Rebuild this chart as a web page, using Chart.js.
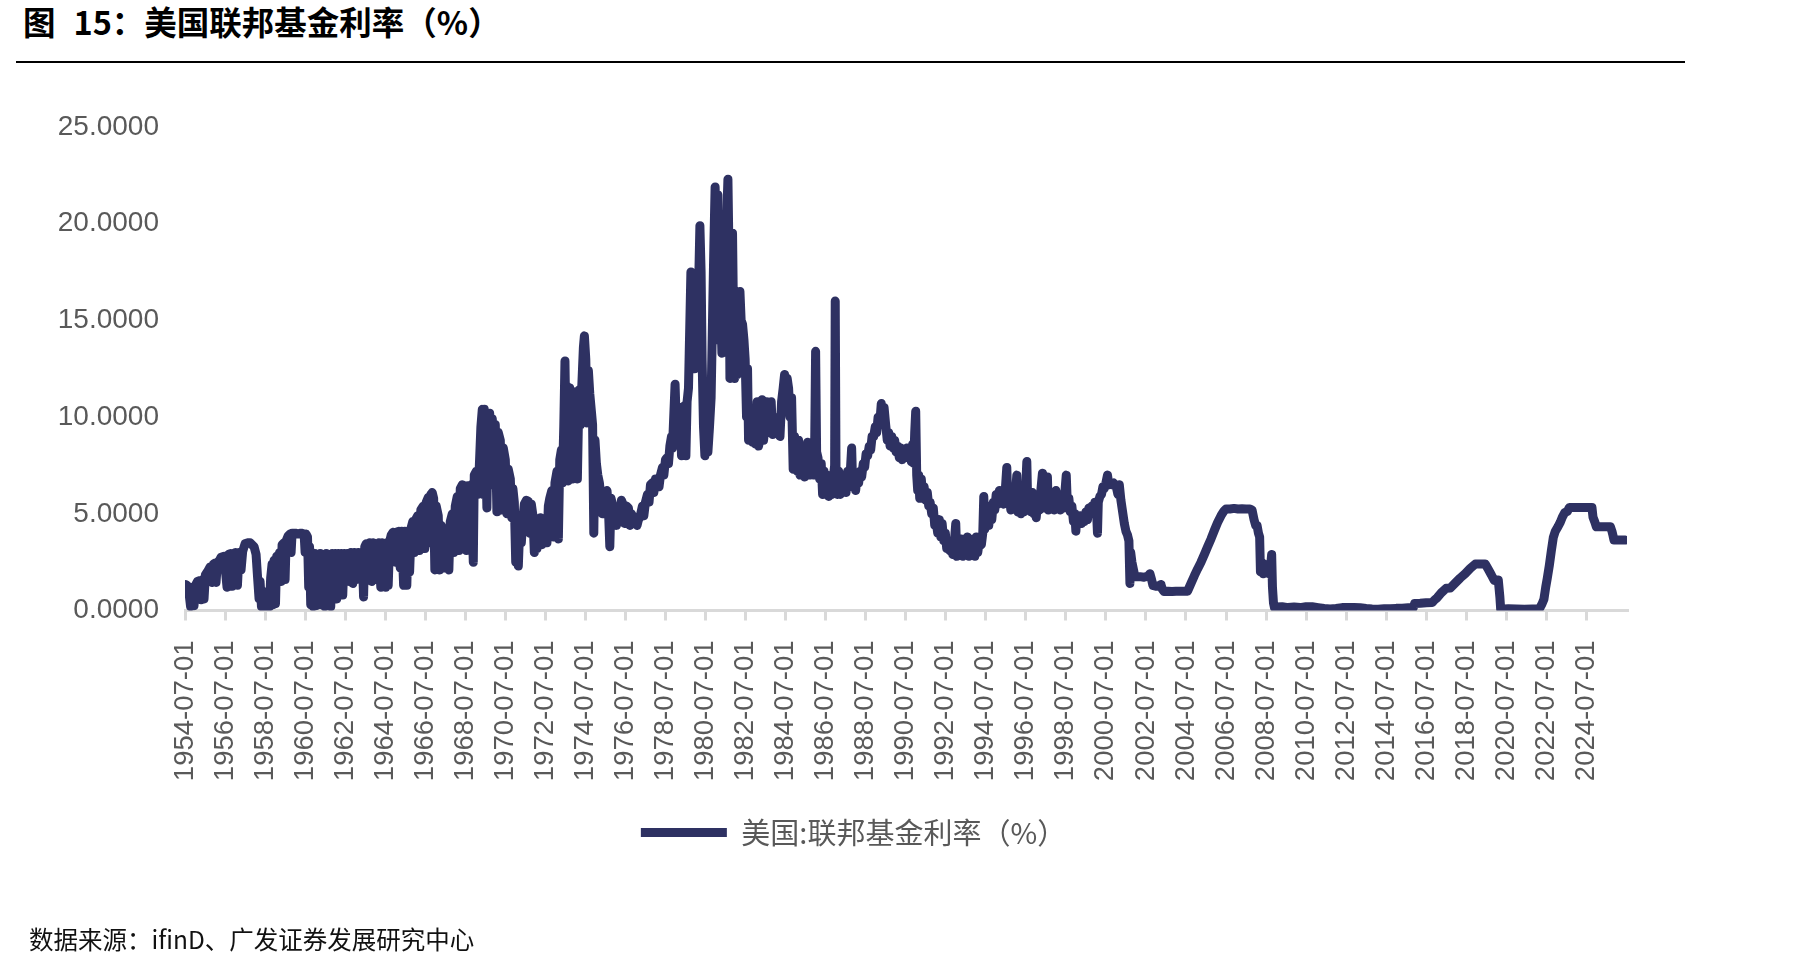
<!DOCTYPE html>
<html lang="zh-CN">
<head>
<meta charset="utf-8">
<title>图 15：美国联邦基金利率（%）</title>
<script src="https://cdn.jsdelivr.net/npm/chart.js@4.4.1/dist/chart.umd.min.js"></script>
<style>
  html, body { margin: 0; padding: 0; background: #fff; }
  body { width: 1796px; height: 968px; position: relative; overflow: hidden; font-family: "Noto Sans CJK SC", sans-serif; }
  #title { position: absolute; left: 23px; top: 1px; font-size: 32.5px; font-weight: bold; color: #000; line-height: 40px; white-space: pre; }
  #title .gap { display: inline-block; width: 18px; }
  #rule { position: absolute; left: 16px; top: 61px; width: 1669px; height: 2px; background: #000; }
  #source { position: absolute; left: 29px; top: 923px; font-size: 24.5px; color: #111; line-height: 32px; }
  #chart { position: absolute; left: 0; top: 0; }
</style>
</head>
<body>
<div id="title">图<span class="gap"></span>15：美国联邦基金利率（%）</div>
<div id="rule"></div>
<canvas id="chart" width="1796" height="968"></canvas>
<div id="source">数据来源：ifinD、广发证券发展研究中心</div>

<script>
const LINE = "#2e3162";
const seriesName = "美国:联邦基金利率（%）";

const tickLabels = [
  "1954-07-01", "1956-07-01", "1958-07-01", "1960-07-01", "1962-07-01", "1964-07-01",
  "1966-07-01", "1968-07-01", "1970-07-01", "1972-07-01", "1974-07-01", "1976-07-01",
  "1978-07-01", "1980-07-01", "1982-07-01", "1984-07-01", "1986-07-01", "1988-07-01",
  "1990-07-01", "1992-07-01", "1994-07-01", "1996-07-01", "1998-07-01", "2000-07-01",
  "2002-07-01", "2004-07-01", "2006-07-01", "2008-07-01", "2010-07-01", "2012-07-01",
  "2014-07-01", "2016-07-01", "2018-07-01", "2020-07-01", "2022-07-01", "2024-07-01",
];

// dates are decimal years; the rate swings give the thick band
const dates1954 = [
  1954.50,1954.60,1954.70,1954.78,1954.85,1954.95,1955.02,1955.12,1955.25,1955.30,
  1955.38,1955.45,1955.52,1955.65,1955.75,1955.85,1955.92,1956.00,1956.05,1956.12,
  1956.20,1956.30,1956.45,1956.60,1956.68,1956.78,1956.85,1956.92,1957.02,1957.12,
  1957.20,1957.30,1957.38,1957.50,1957.62,1957.75,1957.85,1957.95,1958.05,1958.12,
  1958.20,1958.25,1958.32,1958.38,1958.45,1958.52,1958.60,1958.68,1958.72,1958.78,
  1958.85,1958.90,1958.95,1959.02,1959.08,1959.15,1959.22,1959.30,1959.35,1959.45,
  1959.50,1959.55,1959.65,1959.75,1959.80,1959.85,1960.00,1960.15,1960.30,1960.45,
  1960.50,1960.55,1960.62,1960.68,1960.72,1960.78,1960.82,1960.90,1960.98,1961.05,
  1961.12,1961.18,1961.25,1961.32,1961.40,1961.48,1961.55,1961.62,1961.70,1961.78,
  1961.85,1961.92,1962.00,1962.08,1962.15,1962.22,1962.30,1962.38,1962.45,1962.52,
  1962.60,1962.70,1962.78,1962.88,1962.95,1963.05,1963.15,1963.25,1963.35,1963.42,
  1963.48,1963.55,1963.65,1963.72,1963.82,1963.90,1964.00,1964.10,1964.18,1964.28,
  1964.35,1964.45,1964.52,1964.58,1964.65,1964.72,1964.80,1964.90,
];
const rates1954 = [
  1.35,1.30,0.90,0.20,1.20,0.25,1.30,1.50,1.55,0.55,
  1.60,0.60,1.85,2.05,2.25,1.45,2.40,2.45,1.45,2.50,
  2.55,2.75,2.80,1.20,2.90,2.95,1.25,2.95,3.00,1.30,
  3.00,2.10,3.05,3.45,3.50,3.50,3.40,3.30,2.90,1.80,
  0.60,1.50,0.20,1.00,0.15,0.80,0.15,0.90,0.20,1.70,
  2.40,0.30,2.60,0.35,2.80,1.50,3.00,1.50,3.40,3.50,
  1.60,3.60,3.85,3.95,3.00,4.00,4.00,3.95,4.00,3.95,
  3.00,3.95,3.80,1.20,3.30,0.30,3.00,0.20,2.95,0.25,
  2.90,0.50,2.95,0.30,2.60,0.20,2.95,0.40,2.90,0.20,
  2.95,1.00,2.95,0.60,2.95,1.10,2.95,0.80,2.95,1.50,
  2.95,1.50,3.00,1.40,3.00,1.60,3.00,2.00,3.00,0.70,
  3.30,3.45,2.00,3.50,1.50,3.50,3.45,1.60,3.50,1.20,
  3.50,3.45,1.20,3.50,1.30,3.55,3.90,4.05,
];

const dates1965 = [
  1965.00,1965.08,1965.18,1965.25,1965.32,1965.42,1965.48,1965.58,1965.65,1965.72,
  1965.80,1965.88,1965.95,1966.02,1966.12,1966.20,1966.28,1966.40,1966.48,1966.55,
  1966.65,1966.72,1966.78,1966.85,1966.92,1966.98,1967.05,1967.15,1967.22,1967.30,
  1967.40,1967.45,1967.52,1967.60,1967.68,1967.75,1967.85,1967.92,1968.00,1968.10,
  1968.18,1968.25,1968.35,1968.45,1968.55,1968.62,1968.70,1968.80,1968.90,1968.95,
  1969.05,1969.12,1969.20,1969.28,1969.35,1969.40,1969.45,1969.52,1969.58,1969.65,
  1969.72,1969.80,1969.85,1969.92,1970.00,1970.08,1970.15,1970.25,1970.32,1970.40,
  1970.50,1970.58,1970.65,1970.75,1970.82,1970.88,1970.95,1971.02,1971.08,1971.15,
  1971.22,1971.30,1971.38,1971.45,1971.55,1971.65,1971.72,1971.80,1971.88,1971.95,
  1972.02,1972.08,1972.15,1972.25,1972.32,1972.40,1972.50,1972.58,1972.65,1972.72,
  1972.82,1972.90,1972.98,1973.08,1973.15,1973.22,1973.30,1973.35,1973.42,1973.48,
  1973.52,1973.58,1973.65,1973.72,1973.80,1973.88,1973.95,1974.02,1974.10,1974.18,
  1974.25,1974.32,1974.40,1974.45,1974.52,1974.58,1974.65,1974.72,1974.80,1974.86,
  1974.92,1974.98,
];
const rates1965 = [
  2.50,4.05,4.10,2.20,4.10,1.30,4.10,1.30,4.10,2.00,
  4.30,4.60,3.00,4.70,4.90,3.10,5.20,5.40,3.20,5.60,
  5.85,3.50,6.00,6.10,5.80,2.10,5.40,4.90,2.10,4.40,
  4.00,2.20,3.90,4.00,2.10,4.60,5.00,3.00,5.40,5.90,
  3.10,6.30,6.50,6.45,3.10,6.45,6.40,6.50,2.50,7.00,
  7.20,6.00,7.40,9.50,10.40,6.00,10.40,8.50,5.30,9.80,
  10.20,6.50,9.90,8.00,9.60,5.10,9.20,8.80,5.20,8.40,
  7.80,5.00,7.30,6.80,4.80,6.30,5.60,2.50,4.80,2.30,
  4.30,3.50,4.80,5.50,5.70,5.65,4.00,5.50,4.90,3.00,
  4.40,3.20,4.20,4.80,3.40,4.50,4.70,3.50,5.40,5.80,
  6.20,3.80,6.60,7.20,3.70,7.80,8.30,6.60,9.50,12.90,
  10.00,11.60,6.70,11.50,10.80,6.80,11.30,10.20,6.80,11.40,
  9.60,11.60,13.60,14.20,13.00,9.70,12.40,11.20,10.30,9.60,
  4.00,8.80,
];

const dates1975 = [
  1975.05,1975.12,1975.20,1975.28,1975.35,1975.42,1975.50,1975.58,1975.65,1975.72,
  1975.78,1975.85,1975.95,1976.05,1976.12,1976.22,1976.30,1976.38,1976.45,1976.55,
  1976.65,1976.72,1976.80,1976.90,1977.00,1977.08,1977.15,1977.22,1977.35,1977.42,
  1977.50,1977.60,1977.68,1977.75,1977.85,1977.92,1978.00,1978.10,1978.18,1978.25,
  1978.35,1978.42,1978.50,1978.58,1978.65,1978.72,1978.80,1978.85,1978.92,1978.98,
  1979.03,1979.10,1979.18,1979.25,1979.30,1979.38,1979.45,1979.52,1979.58,1979.65,
  1979.72,1979.77,1979.82,1979.88,1979.95,1980.00,1980.08,1980.15,1980.22,1980.28,
  1980.33,1980.40,1980.47,1980.55,1980.62,1980.70,1980.78,1980.85,1980.92,1980.98,
  1981.03,1981.08,1981.12,1981.18,1981.25,1981.32,1981.38,1981.45,1981.50,1981.55,
  1981.62,1981.68,1981.72,1981.78,1981.85,1981.90,1981.95,1982.02,1982.08,1982.15,
  1982.22,1982.28,1982.35,1982.42,1982.48,1982.55,1982.60,1982.65,1982.72,1982.78,
  1982.85,1982.92,1983.00,1983.08,1983.15,1983.25,1983.32,1983.40,1983.48,1983.55,
  1983.62,1983.70,1983.78,1983.85,1983.92,1984.00,1984.08,1984.15,1984.22,1984.30,
  1984.38,1984.45,1984.52,1984.58,1984.65,1984.72,1984.80,1984.88,1984.95,
];
const rates1975 = [
  7.60,7.00,6.60,5.80,5.00,5.50,6.10,6.20,5.30,3.30,
  5.80,5.50,5.30,4.40,5.00,4.90,5.70,5.50,4.50,5.40,
  5.30,4.40,5.00,4.80,4.70,4.40,4.70,4.80,5.40,4.90,
  5.60,6.00,5.60,6.50,6.60,6.10,6.80,6.80,6.40,7.00,
  7.40,7.00,7.80,7.90,7.60,8.50,9.00,8.40,10.20,11.70,
  10.00,10.30,9.80,10.50,8.00,10.30,10.60,8.00,10.80,11.50,
  15.00,17.50,13.00,14.50,12.50,14.00,13.50,16.50,19.90,17.50,
  13.00,9.50,8.00,9.00,8.20,9.50,11.00,15.00,19.00,21.90,
  20.00,21.50,14.00,19.50,16.00,13.30,18.00,19.00,14.00,20.00,
  22.30,18.00,12.00,16.00,19.50,15.00,12.00,13.50,12.20,14.50,
  16.50,15.00,14.80,14.00,13.00,10.00,12.50,8.80,10.50,9.50,
  8.70,10.20,8.60,10.80,8.50,9.00,10.90,8.80,9.60,10.80,
  9.20,9.60,10.80,9.10,9.60,9.80,9.40,10.00,9.00,10.80,
  11.50,12.20,11.20,12.00,11.50,10.00,11.00,7.30,9.00,
];

const dates1985 = [
  1985.02,1985.08,1985.15,1985.22,1985.30,1985.38,1985.45,1985.52,1985.60,1985.68,
  1985.75,1985.82,1985.88,1985.95,1986.00,1986.05,1986.12,1986.20,1986.28,1986.35,
  1986.42,1986.50,1986.58,1986.65,1986.72,1986.80,1986.88,1986.95,1986.98,1987.02,
  1987.08,1987.15,1987.22,1987.30,1987.38,1987.45,1987.52,1987.60,1987.68,1987.75,
  1987.80,1987.85,1987.92,1988.00,1988.08,1988.15,1988.22,1988.30,1988.38,1988.45,
  1988.52,1988.60,1988.68,1988.75,1988.82,1988.90,1988.98,1989.05,1989.12,1989.20,
  1989.28,1989.35,1989.42,1989.50,1989.58,1989.65,1989.72,1989.80,1989.88,1989.95,
  1990.02,1990.10,1990.18,1990.25,1990.32,1990.40,1990.48,1990.55,1990.62,1990.70,
  1990.78,1990.85,1990.90,1990.95,1991.00,1991.05,1991.10,1991.15,1991.20,1991.28,
  1991.35,1991.42,1991.50,1991.58,1991.65,1991.72,1991.80,1991.88,1991.95,1992.02,
  1992.10,1992.18,1992.25,1992.32,1992.40,1992.48,1992.55,1992.62,1992.70,1992.78,
  1992.85,1992.92,1993.00,1993.05,1993.12,1993.20,1993.28,1993.35,1993.42,1993.50,
  1993.58,1993.65,1993.72,1993.80,1993.88,1993.95,1994.02,1994.10,1994.18,1994.28,
  1994.35,1994.40,1994.45,1994.52,1994.60,1994.65,1994.72,1994.80,1994.88,1994.95,
];
const rates1985 = [
  8.50,7.20,8.80,7.00,8.50,8.00,6.90,8.00,8.70,7.00,
  8.20,8.00,7.00,8.30,13.40,8.20,7.90,6.80,7.60,6.00,
  7.20,6.40,7.00,5.90,6.50,6.00,6.80,7.50,16.00,7.00,
  6.00,7.20,6.00,7.00,6.30,7.00,6.10,7.20,6.40,7.50,
  8.40,6.50,7.00,6.20,7.00,6.60,7.20,6.90,7.60,7.40,
  8.10,8.00,8.50,8.30,9.00,9.00,9.50,9.20,10.00,9.60,
  10.70,9.80,10.50,9.60,8.80,9.20,8.50,9.00,8.40,8.80,
  8.20,8.50,7.90,8.40,7.80,8.30,7.90,8.40,8.00,8.30,
  7.70,8.60,7.60,9.20,10.30,7.00,6.20,7.00,5.80,6.80,
  5.80,6.40,5.70,6.10,5.40,5.60,5.00,5.30,4.40,4.60,
  4.00,4.70,3.80,4.50,3.60,4.00,3.20,3.60,3.10,3.50,
  2.90,3.40,4.50,2.80,3.60,2.90,3.70,2.80,3.50,2.90,
  3.80,2.80,3.60,2.90,3.70,2.80,3.80,3.00,3.60,3.40,
  4.00,5.90,4.20,4.50,5.00,4.40,5.40,4.70,5.60,5.20,
];

const dates1995 = [
  1995.02,1995.10,1995.18,1995.25,1995.32,1995.40,1995.48,1995.55,1995.60,1995.68,
  1995.75,1995.82,1995.90,1995.98,1996.05,1996.10,1996.18,1996.25,1996.32,1996.40,
  1996.48,1996.55,1996.60,1996.68,1996.75,1996.82,1996.90,1996.98,1997.02,1997.10,
  1997.18,1997.25,1997.33,1997.38,1997.45,1997.52,1997.58,1997.62,1997.70,1997.78,
  1997.85,1997.92,1998.00,1998.08,1998.15,1998.22,1998.30,1998.38,1998.45,1998.52,
  1998.58,1998.65,1998.72,1998.80,1998.88,1998.95,1999.00,1999.05,1999.12,1999.20,
  1999.28,1999.35,1999.42,1999.50,1999.58,1999.65,1999.72,1999.80,1999.88,1999.95,
  2000.02,2000.08,2000.12,2000.20,2000.28,2000.35,2000.42,2000.50,2000.58,2000.65,
  2000.72,2000.80,2000.88,2000.95,2001.02,2001.10,2001.17,2001.25,2001.35,2001.42,
  2001.50,2001.58,2001.65,2001.70,2001.74,2001.80,2001.88,2001.95,2002.20,2002.40,
  2002.60,2002.70,2002.78,2002.85,2003.00,2003.15,2003.25,2003.32,2003.40,2003.60,
  2003.80,2004.00,2004.20,2004.40,2004.58,2004.75,2004.92,2005.08,2005.25,2005.42,
  2005.58,2005.75,2005.92,2006.08,2006.25,2006.40,2006.50,2006.70,2006.90,2007.10,
  2007.30,2007.50,2007.70,2007.80,2007.90,2007.98,2008.05,2008.12,2008.18,2008.22,
  2008.28,2008.35,2008.42,2008.50,2008.58,2008.65,2008.72,2008.78,2008.82,2008.87,
  2008.92,
];
const rates1995 = [
  6.00,5.50,6.20,5.80,6.20,5.50,6.30,7.40,5.60,6.00,
  5.20,6.20,5.40,6.00,7.00,5.10,5.70,5.00,5.80,5.10,
  6.00,7.70,5.20,5.80,5.10,6.10,5.00,6.00,4.80,5.80,
  5.20,6.20,7.10,5.30,6.10,5.40,6.90,5.20,6.00,5.30,
  6.00,5.20,6.20,5.30,5.90,5.20,6.00,5.30,6.10,7.00,
  5.30,5.80,5.10,5.40,4.60,5.00,4.10,4.90,4.50,4.90,
  4.50,4.90,4.60,5.10,4.70,5.30,5.00,5.40,5.10,5.60,
  5.40,4.00,5.60,5.90,6.00,6.40,6.30,6.60,7.00,6.50,
  6.60,6.50,6.60,6.50,6.40,6.00,6.50,5.70,5.00,4.50,
  4.10,3.90,3.60,1.40,3.00,2.50,2.10,1.75,1.75,1.72,
  1.78,1.90,1.60,1.30,1.25,1.28,1.35,1.10,0.98,1.00,
  0.98,1.00,1.00,1.00,1.00,1.40,1.80,2.15,2.50,2.90,
  3.30,3.70,4.15,4.55,4.90,5.15,5.25,5.25,5.28,5.25,
  5.26,5.25,5.25,5.20,4.70,4.40,4.40,4.00,3.80,2.00,
  2.50,1.90,2.40,2.00,2.30,1.90,2.20,2.90,1.20,0.40,
  0.15,
];

const dates2009 = [
  2009.00,2009.30,2009.60,2009.90,2010.20,2010.50,2010.80,2011.10,2011.40,2011.70,
  2012.00,2012.30,2012.60,2012.90,2013.20,2013.50,2013.80,2014.10,2014.40,2014.70,
  2015.00,2015.30,2015.60,2015.85,2015.92,2016.20,2016.50,2016.80,2016.92,2017.05,
  2017.25,2017.50,2017.70,2017.95,2018.20,2018.45,2018.70,2018.95,2019.20,2019.45,
  2019.60,2019.75,2019.90,2020.10,2020.18,2020.22,2020.60,2021.00,2021.40,2021.80,
  2022.15,2022.28,2022.38,2022.47,2022.55,2022.65,2022.75,2022.85,2022.95,2023.08,
  2023.20,2023.30,2023.42,2023.55,2023.65,2024.00,2024.40,2024.78,2024.83,2024.92,
  2025.00,2025.40,2025.70,2025.78,2025.83,2025.88,2026.20,2026.45,
];
const rates2009 = [
  0.18,0.20,0.15,0.18,0.15,0.20,0.20,0.15,0.10,0.08,
  0.10,0.15,0.15,0.15,0.14,0.10,0.08,0.07,0.09,0.09,
  0.11,0.12,0.14,0.14,0.36,0.37,0.40,0.41,0.55,0.66,
  0.91,1.15,1.16,1.42,1.68,1.91,2.18,2.40,2.40,2.40,
  2.13,1.85,1.55,1.58,0.70,0.07,0.09,0.08,0.07,0.08,
  0.08,0.33,0.58,1.21,1.68,2.33,3.08,3.78,4.10,4.33,
  4.57,4.83,5.06,5.12,5.33,5.33,5.33,5.33,4.83,4.58,
  4.33,4.33,4.33,4.09,3.88,3.64,3.64,3.64,
];

const dates = [].concat(dates1954, dates1965, dates1975, dates1985, dates1995, dates2009);
const rates = [].concat(rates1954, rates1965, rates1975, rates1985, rates1995, rates2009);
if (dates.length !== rates.length) console.error("length mismatch", dates.length, rates.length);

const points = dates.map((d, i) => ({ x: d, y: rates[i] }));

// legend sits centred under the whole figure, a little right of the plot centre
const legendNudge = {
  id: "legendNudge",
  afterLayout(chart) {
    chart.legend.left += 14;
    chart.legend.right += 14;
  },
};

new Chart(document.getElementById("chart"), {
  type: "line",
  data: {
    datasets: [
      {
        label: seriesName,
        data: points,
        borderColor: LINE,
        backgroundColor: LINE,
        borderWidth: 9,
        borderJoinStyle: "round",
        borderCapStyle: "round",
        pointRadius: 0,
        pointHoverRadius: 0,
        tension: 0,
        fill: false,
      },
    ],
  },
  options: {
    responsive: false,
    animation: false,
    devicePixelRatio: 1,
    layout: { padding: { left: 52, top: 127, right: 169, bottom: 111 } },
    plugins: {
      tooltip: { enabled: false },
      legend: {
        position: "bottom",
        labels: {
          usePointStyle: true,
          pointStyle: "line",
          pointStyleWidth: 86,
          padding: 10,
          color: "#595959",
          font: { family: "'Noto Sans CJK SC', sans-serif", size: 29 },
        },
      },
    },
    scales: {
      x: {
        type: "linear",
        min: 1954.5,
        max: 2026.53,
        afterBuildTicks: (scale) => {
          scale.ticks = tickLabels.map((l) => ({ value: parseInt(l.slice(0, 4), 10) + 0.5 }));
        },
        afterFit: (scale) => {
          scale.height = 197.5;
        },
        grid: {
          drawOnChartArea: false,
          drawTicks: true,
          tickLength: 10,
          color: "#d9d9d9",
          lineWidth: 3,
        },
        border: { color: "#d9d9d9", width: 3 },
        ticks: {
          autoSkip: false,
          minRotation: 90,
          maxRotation: 90,
          padding: 20,
          color: "#595959",
          font: { family: "'Liberation Sans', Arial, sans-serif", size: 27.5 },
          callback: (v, i) => tickLabels[i],
        },
      },
      y: {
        min: 0,
        max: 25,
        afterFit: (scale) => {
          scale.width = 133;
        },
        grid: { display: false, drawTicks: false },
        border: { display: false },
        ticks: {
          stepSize: 5,
          padding: 26,
          color: "#595959",
          font: { family: "'Liberation Sans', Arial, sans-serif", size: 28 },
          callback: (v) => Number(v).toFixed(4),
        },
      },
    },
  },
  plugins: [legendNudge],
});
</script>
</body>
</html>
